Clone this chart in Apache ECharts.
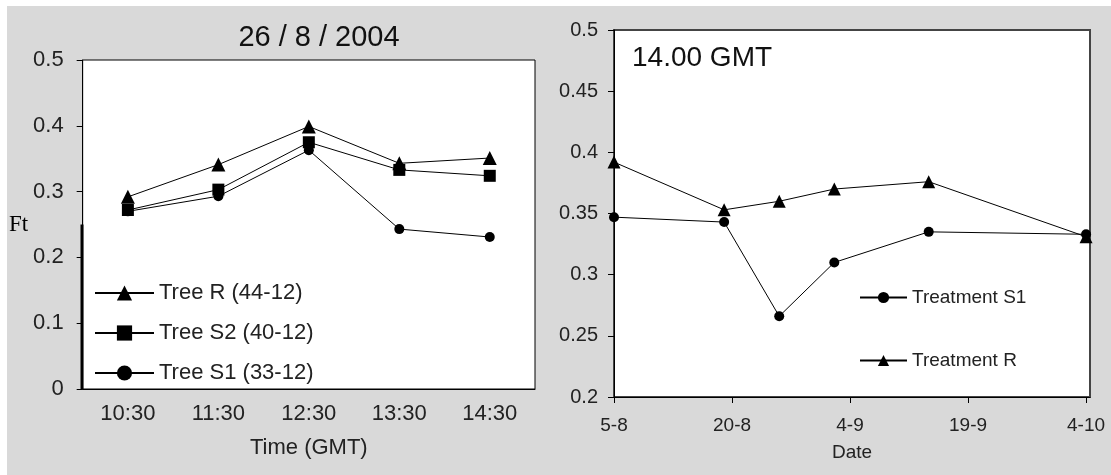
<!DOCTYPE html>
<html lang="en">
    <head>
        <meta charset="UTF-8">
        <title>Ft</title>
        <script src="https://cdn.jsdelivr.net/npm/echarts@6/dist/echarts.min.js"></script>
        <style>
            html, body {
                margin: 0;
                height: 100%;
                background: #fff;
            }
        </style>
    </head>
    <body>
        <!--chart container, white strip left/top like the scan-->
        <div id="main" style="position: absolute;left: 7px;top: 6px;width: 1104px;height: 469px;"></div>
    </body>
</html>
<script>
    // left panel: 26/8/2004
    var times = ['10:30', '11:30', '12:30', '13:30', '14:30'];
    var treeR = [0.292, 0.341, 0.399, 0.343, 0.351];
    var treeS2 = [0.272, 0.303, 0.375, 0.333, 0.324];
    var treeS1 = [0.270, 0.293, 0.363, 0.243, 0.231];

    // right panel: 14.00 GMT, x = days after 5 Aug
    var sampleDays = [0, 14, 21, 28, 40, 60];
    var treatS1 = [0.347, 0.343, 0.266, 0.310, 0.335, 0.333];
    var treatR = [0.392, 0.353, 0.360, 0.370, 0.376, 0.331];
    var dateTicks = ['5-8', '20-8', '4-9', '19-9', '4-10'];

    var sans = 'Liberation Sans, Arial, sans-serif';

    function pairs(xs, ys) {
        var out = [];
        for (var i = 0; i < xs.length; i++) {
            out.push([xs[i], ys[i]]);
        }
        return out;
    }

    function lineSeries(name, data, symbol, size, xi) {
        return {
            name: name,
            type: 'line',
            xAxisIndex: xi,
            yAxisIndex: xi,
            data: data,
            symbol: symbol,
            symbolSize: size,
            color: '#000',
            itemStyle: {color: '#000'},
            lineStyle: {color: '#000', width: 1},
            emphasis: {disabled: true},
            z: 3
        };
    }

    var myChart = echarts.init(document.getElementById('main'));

    var option = {
        backgroundColor: '#d9d9d9',
        animation: false,
        title: [
            {
                text: '26 / 8 / 2004',
                left: 307,
                top: 12,
                textAlign: 'center',
                textStyle: {fontFamily: sans, fontSize: 29, fontWeight: 'normal', color: '#111'}
            },
            {
                text: '14.00 GMT',
                left: 620,
                top: 33,
                textStyle: {fontFamily: sans, fontSize: 28, fontWeight: 'normal', color: '#111'}
            }
        ],
        legend: [
            {
                orient: 'vertical',
                left: 87,
                top: 276,
                padding: 0,
                itemWidth: 59,
                itemHeight: 19,
                itemGap: 18,
                data: ['Tree R (44-12)', 'Tree S2 (40-12)', 'Tree S1 (33-12)'],
                textStyle: {fontFamily: sans, fontSize: 22, color: '#222'}
            },
            {
                orient: 'vertical',
                left: 852,
                top: 282,
                padding: 0,
                itemWidth: 47,
                itemHeight: 14,
                itemGap: 44,
                data: ['Treatment S1', 'Treatment R'],
                textStyle: {fontFamily: sans, fontSize: 19, color: '#222'}
            }
        ],
        grid: [
            {
                left: 75, top: 54, width: 453, height: 329,
                show: true, backgroundColor: '#fff', borderColor: '#000', borderWidth: 1
            },
            {
                left: 607, top: 24, width: 476, height: 367,
                show: true, backgroundColor: '#fff', borderColor: '#444', borderWidth: 2
            }
        ],
        xAxis: [
            {
                type: 'category',
                gridIndex: 0,
                data: times,
                boundaryGap: true,
                name: 'Time (GMT)',
                nameLocation: 'middle',
                nameGap: 48,
                nameTextStyle: {fontFamily: sans, fontSize: 22, color: '#222'},
                axisLine: {lineStyle: {color: '#000', width: 1}},
                axisTick: {length: 6, alignWithLabel: false, lineStyle: {color: '#000'}},
                axisLabel: {fontFamily: sans, fontSize: 22, color: '#222', margin: 14},
                splitLine: {show: false}
            },
            {
                type: 'value',
                gridIndex: 1,
                min: 0,
                max: 60.5,
                interval: 15,
                name: 'Date',
                nameLocation: 'middle',
                nameGap: 46,
                nameTextStyle: {fontFamily: sans, fontSize: 19, color: '#222'},
                axisLine: {onZero: false, lineStyle: {color: '#000', width: 1}},
                axisTick: {length: 6, lineStyle: {color: '#000'}},
                axisLabel: {
                    fontFamily: sans, fontSize: 19, color: '#222', margin: 19,
                    showMaxLabel: false,
                    formatter: function (v) {
                        var k = Math.round(v / 15);
                        return Math.abs(v - k * 15) < 1e-6 && dateTicks[k] ? dateTicks[k] : '';
                    }
                },
                splitLine: {show: false}
            }
        ],
        yAxis: [
            {
                type: 'value',
                gridIndex: 0,
                min: 0,
                max: 0.5,
                interval: 0.1,
                name: 'Ft',
                nameLocation: 'middle',
                nameRotate: 0,
                nameGap: 52,
                nameTextStyle: {fontFamily: 'Liberation Serif, Times New Roman, serif', fontSize: 23, color: '#000'},
                axisLine: {show: true, lineStyle: {color: '#000', width: 1}},
                axisTick: {show: true, length: 6, lineStyle: {color: '#000'}},
                axisLabel: {fontFamily: sans, fontSize: 22, color: '#222', margin: 19},
                splitLine: {show: false}
            },
            {
                type: 'value',
                gridIndex: 1,
                min: 0.2,
                max: 0.5,
                interval: 0.05,
                axisLine: {show: true, lineStyle: {color: '#000', width: 1}},
                axisTick: {show: true, length: 6, lineStyle: {color: '#000'}},
                axisLabel: {fontFamily: sans, fontSize: 20, color: '#222', margin: 16},
                splitLine: {show: false}
            }
        ],
        series: [
            lineSeries('Tree R (44-12)', treeR, 'triangle', 14, 0),
            lineSeries('Tree S2 (40-12)', treeS2, 'rect', 12, 0),
            lineSeries('Tree S1 (33-12)', treeS1, 'circle', 10, 0),
            lineSeries('Treatment S1', pairs(sampleDays, treatS1), 'circle', 10, 1),
            lineSeries('Treatment R', pairs(sampleDays, treatR), 'triangle', 13, 1)
        ]
    };

    myChart.setOption(option);

    // heavy stroke on the lower half of the left y axis (as in the scan)
    var yTop = myChart.convertToPixel({yAxisIndex: 0}, 0.25);
    var yBot = myChart.convertToPixel({yAxisIndex: 0}, 0);
    myChart.setOption({
        graphic: [{
            type: 'line',
            shape: {x1: 75, y1: yTop, x2: 75, y2: yBot},
            style: {stroke: '#000', lineWidth: 3},
            z: 10
        }]
    });
</script>
